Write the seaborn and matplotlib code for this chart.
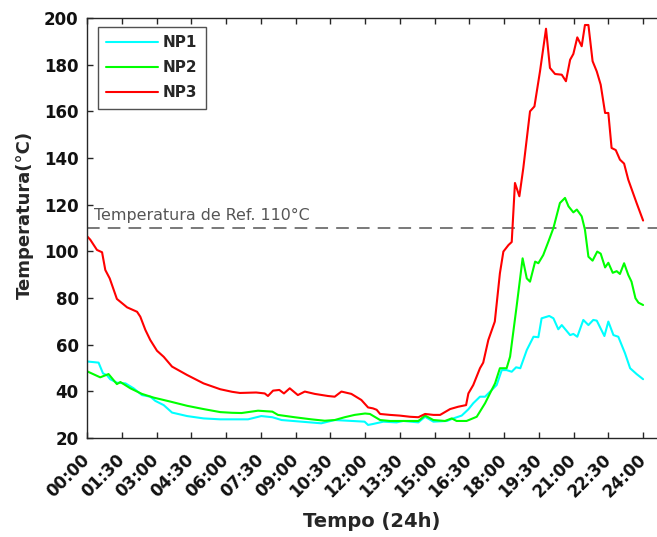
import numpy as np
import pandas as pd
import matplotlib
matplotlib.use("Agg")
import matplotlib.pyplot as plt
import matplotlib.transforms as mtransforms
import seaborn as sns

# Leituras de temperatura ao longo do dia (hora decimal, °C)
hora_np1 = [0.0, 0.5, 0.69, 0.86, 1.0, 1.29, 1.66, 2.01, 2.37, 2.73, 2.95, 3.31,
            3.67, 4.32, 5.03, 5.75, 6.26, 6.95, 7.52, 8.0, 8.4, 9.25, 10.11, 10.69,
            11.26, 11.98, 12.13, 12.34, 12.79, 13.36, 13.65, 14.3, 14.59, 14.95,
            15.53, 15.81, 16.17, 16.46, 16.67, 16.96, 17.18, 17.47, 17.68, 17.9,
            18.11, 18.33, 18.52, 18.7, 18.98, 19.27, 19.48, 19.62, 19.95, 20.13,
            20.34, 20.49, 20.85, 20.99, 21.16, 21.42, 21.64, 21.85, 22.0, 22.33,
            22.5, 22.72, 22.93, 23.22, 23.44, 23.72, 24.0]
temp_np1 = [52.8, 52.3, 47.7, 46.9, 45.2, 43.7, 43.4, 41.3, 38.4, 37.7, 35.9, 34.1,
            30.9, 29.4, 28.4, 28.0, 28.0, 28.0, 29.4, 28.9, 27.7, 27.0, 26.3, 27.7,
            27.4, 27.0, 25.6, 26.0, 27.0, 26.7, 27.3, 26.7, 29.1, 27.0,
            27.3, 28.4, 29.6, 32.3, 34.9, 37.7, 37.7, 40.6, 42.7, 49.1,
            49.1, 48.4, 50.3, 49.9, 57.7, 63.4, 63.2, 71.3, 72.3, 71.3,
            66.6, 68.4, 64.1, 64.6, 63.4, 70.6, 68.4, 70.6, 70.3, 63.7,
            69.9, 64.1, 63.4, 56.3, 49.9, 47.4, 45.2]

hora_np2 = [0.0, 0.57, 0.93, 1.29, 1.44, 1.87, 2.37, 2.88, 3.6, 4.32, 5.03, 5.75,
            6.26, 6.67, 7.38, 8.0, 8.24, 8.96, 9.68, 10.26, 10.69, 11.12, 11.55,
            12.0, 12.21, 12.65, 13.08, 13.65, 14.3, 14.59, 14.95, 15.45, 15.74,
            15.95, 16.38, 16.82, 17.18, 17.39, 17.61, 17.82, 18.04, 18.11, 18.26,
            18.54, 18.8, 18.98, 19.12, 19.34, 19.48, 19.69, 19.91, 20.13, 20.41,
            20.63, 20.78, 20.99, 21.14, 21.35, 21.49, 21.64, 21.82, 22.02, 22.17,
            22.36, 22.5, 22.69, 22.86, 23.0, 23.18, 23.36, 23.5, 23.67, 23.8, 24.0]
temp_np2 = [48.6, 46.0, 47.4, 43.1, 44.0, 41.3, 38.9, 37.3, 35.6, 33.8, 32.4, 31.1,
            30.8, 30.7, 31.7, 31.3, 29.9, 28.9, 28.0, 27.4, 27.7, 28.9, 29.9,
            30.5, 30.3, 27.7, 27.3, 27.3, 27.3, 29.6, 27.7, 27.3, 28.4,
            27.3, 27.3, 29.1, 34.9, 39.1, 43.4, 49.9, 49.9, 49.9, 54.9,
            76.3, 97.0, 88.4, 87.0, 95.6, 94.9, 98.4, 104.1, 110.0, 120.7,
            122.9, 119.3, 116.7, 117.9, 115.0, 109.3, 97.7, 96.0, 99.9, 99.0,
            93.1, 95.1, 90.8, 91.5, 90.3, 94.9, 89.9, 87.0, 79.9, 78.0, 77.0]

hora_np3 = [0.0, 0.14, 0.43, 0.65, 0.79, 0.98, 1.29, 1.73, 2.16, 2.3, 2.52, 2.73,
            3.02, 3.31, 3.67, 4.32, 5.03, 5.75, 6.26, 6.6, 6.95, 7.3, 7.67, 7.81,
            8.03, 8.3, 8.5, 8.75, 9.1, 9.4, 9.83, 10.4, 10.69, 10.98, 11.41, 11.84,
            12.13, 12.34, 12.5, 12.65, 13.08, 13.5, 13.94, 14.3, 14.59, 14.95,
            15.24, 15.67, 16.02, 16.36, 16.46, 16.67, 16.96, 17.1, 17.32, 17.6,
            17.75, 17.82, 17.97, 18.19, 18.33, 18.47, 18.66, 18.83, 19.12, 19.31,
            19.55, 19.81, 19.98, 20.2, 20.49, 20.67, 20.85, 20.99, 21.16, 21.35,
            21.49, 21.64, 21.82, 22.0, 22.17, 22.36, 22.5, 22.64, 22.82, 23.0,
            23.18, 23.36, 23.72, 24.0]
temp_np3 = [106.5, 105.0, 100.6, 99.6, 92.0, 88.4, 79.6, 76.0, 74.1, 72.0, 66.3, 62.0,
            57.4, 54.8, 50.6, 47.0, 43.4, 40.9, 39.8, 39.3, 39.4, 39.5, 39.1, 38.0,
            40.3, 40.6, 39.1, 41.3, 38.4, 39.9, 38.9, 38.0, 37.7, 39.9, 38.9, 36.3,
            33.1, 32.7, 32.1, 30.3, 29.9, 29.6, 29.1, 28.9, 30.3, 29.9,
            29.9, 32.4, 33.4, 34.1, 39.1, 42.7, 49.9, 52.3, 62.0, 69.9,
            84.0, 90.6, 99.9, 102.7, 104.0, 129.3, 123.6, 135.7, 160.0, 162.1,
            177.1, 195.4, 178.6, 176.0, 175.7, 172.9, 182.1, 184.6, 191.7, 187.9,
            197.0, 197.0, 181.5, 177.1, 171.4, 159.3, 159.3, 144.3, 143.4, 139.3,
            137.6, 130.7, 120.7, 113.2]

sensores = ["NP1", "NP2", "NP3"]
cores = ["#00FFFF", "#00FF00", "#FF0000"]

tick_horas = [0, 1.5, 3, 4.5, 6, 7.5, 9, 10.5, 12, 13.5, 15, 16.5, 18, 19.5, 21, 22.5, 24]
tick_rotulos = ["00:00", "01:30", "03:00", "04:30", "06:00", "07:30", "09:00",
                "10:30", "12:00", "13:30", "15:00", "16:30", "18:00", "19:30",
                "21:00", "22:30", "24:00"]
y_ticks = [20, 40, 60, 80, 100, 120, 140, 160, 180, 200]

temp_ref = 110
texto_ref = "Temperatura de Ref. 110°C"

df = pd.concat([
    pd.DataFrame({"hora": h, "temp": t, "sensor": s})
    for h, t, s in [(hora_np1, temp_np1, "NP1"),
                    (hora_np2, temp_np2, "NP2"),
                    (hora_np3, temp_np3, "NP3")]
], ignore_index=True)

sns.set_style("ticks")
plt.rcParams["font.family"] = ["DejaVu Sans"]

fig = plt.figure(figsize=(6.57, 5.37), dpi=100)
ax = fig.add_axes([87 / 657, 1 - 438 / 537, 1 - 87 / 657, 420 / 537])

sns.lineplot(data=df, x="hora", y="temp", hue="sensor", hue_order=sensores,
             palette=dict(zip(sensores, cores)), estimator=None, sort=True,
             linewidth=1.5, ax=ax)

ax.axhline(temp_ref, color="#6e6e6e", linewidth=1.3, linestyle=(0, (7, 4.5)), zorder=1)
ax.text(0.3, temp_ref + 2.0, texto_ref, color="#555555", fontsize=11.4,
        ha="left", va="bottom")

ax.set_xlim(0, 24.6)
ax.set_ylim(20, 200)
ax.set_xticks(tick_horas)
ax.set_xticklabels(tick_rotulos, rotation=45, ha="right", va="center",
                   rotation_mode="anchor", fontsize=12, fontweight="bold")
ax.set_yticks(y_ticks)
ax.set_yticklabels([str(v) for v in y_ticks], fontsize=12, fontweight="bold")

offset = mtransforms.ScaledTranslation(9 / 72, 0, fig.dpi_scale_trans)
for lbl in ax.get_xticklabels():
    lbl.set_transform(lbl.get_transform() + offset)

ax.tick_params(axis="both", direction="in", length=4, width=1, color="#262626",
               top=True, right=False, labelcolor="#111111")
ax.tick_params(axis="x", pad=14)
ax.tick_params(axis="y", pad=6)

for side in ["left", "bottom", "top"]:
    ax.spines[side].set_visible(True)
    ax.spines[side].set_color("#262626")
    ax.spines[side].set_linewidth(1.0)
ax.spines["right"].set_visible(False)

ax.set_xlabel("Tempo (24h)", fontsize=14, fontweight="bold", labelpad=8)
ax.set_ylabel("Temperatura(°C)", fontsize=13, fontweight="bold")
ax.yaxis.set_label_coords(-0.093, 0.53)

leg = ax.legend(loc="upper left", bbox_to_anchor=(11 / 570, 1 - 9 / 420),
                borderaxespad=0, frameon=True, fancybox=False,
                handlelength=3.4, handletextpad=0.3, labelspacing=0.65,
                borderpad=0.55, prop={"weight": "bold", "size": 11})
leg.get_frame().set_edgecolor("#262626")
leg.get_frame().set_linewidth(1.0)
for line in leg.get_lines():
    line.set_linewidth(1.5)

fig.savefig("out.png", dpi=100)
